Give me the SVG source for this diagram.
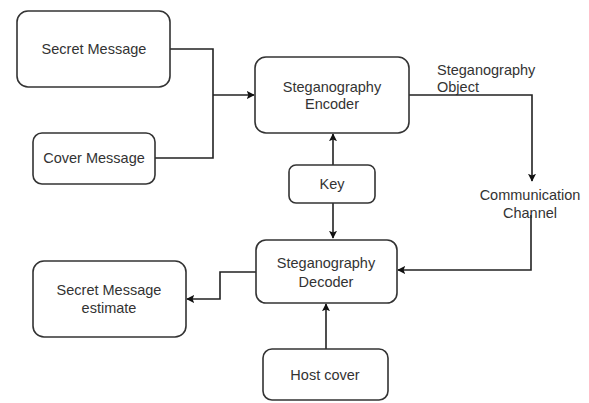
<svg xmlns="http://www.w3.org/2000/svg" width="589" height="403" viewBox="0 0 589 403">
<style>
.box{fill:#fff;stroke:#333;stroke-width:1.6}
.t{font-family:"Liberation Sans",Arial,sans-serif;font-size:14.5px;fill:#333;text-anchor:middle}
.tl{font-family:"Liberation Sans",Arial,sans-serif;font-size:14.5px;fill:#333}
.c{fill:none;stroke:#222;stroke-width:1.6}
</style>
<defs>
<marker id="a" viewBox="0 0 10 10" refX="9" refY="5" markerWidth="8" markerHeight="8" markerUnits="userSpaceOnUse" orient="auto"><path d="M0,0 L10,5 L0,10 L2,5 Z" fill="#111"/></marker>
</defs>
<rect width="589" height="403" fill="#fff"/>
<g id="connectors">
<path class="c" d="M170,49 H213 V158 H155"/>
<path class="c" d="M213,95 H254" marker-end="url(#a)"/>
<path class="c" d="M409,95 H532 V181" marker-end="url(#a)"/>
<path class="c" d="M531,215 V270 H398" marker-end="url(#a)"/>
<path class="c" d="M333,165 V134" marker-end="url(#a)"/>
<path class="c" d="M333,203 V238" marker-end="url(#a)"/>
<path class="c" d="M256,272 H220 V299 H187" marker-end="url(#a)"/>
<path class="c" d="M326,349 V304" marker-end="url(#a)"/>
</g>
<g id="secret">
<rect class="box" x="17" y="11" width="153" height="76" rx="11"/>
<text class="t" x="94" y="54">Secret Message</text>
</g>
<g id="cover">
<rect class="box" x="33" y="133" width="122" height="51" rx="9"/>
<text class="t" x="94" y="163">Cover Message</text>
</g>
<g id="encoder">
<rect class="box" x="255" y="57" width="154" height="76" rx="11"/>
<text class="t" x="332" y="92">Steganography</text>
<text class="t" x="332" y="109">Encoder</text>
</g>
<g id="object-label">
<text class="tl" x="437" y="75">Steganography</text>
<text class="tl" x="437" y="92">Object</text>
</g>
<g id="key">
<rect class="box" x="289" y="165" width="86" height="38" rx="7"/>
<text class="t" x="332" y="189">Key</text>
</g>
<g id="channel">
<text class="t" x="530" y="200">Communication</text>
<text class="t" x="530" y="218">Channel</text>
</g>
<g id="decoder">
<rect class="box" x="256" y="240" width="141" height="63" rx="10"/>
<text class="t" x="326" y="268">Steganography</text>
<text class="t" x="326" y="287">Decoder</text>
</g>
<g id="estimate">
<rect class="box" x="33" y="261" width="153" height="76" rx="11"/>
<text class="t" x="109" y="295">Secret Message</text>
<text class="t" x="109" y="313">estimate</text>
</g>
<g id="host">
<rect class="box" x="263" y="349" width="125" height="51" rx="9"/>
<text class="t" x="325" y="380">Host cover</text>
</g>
</svg>
